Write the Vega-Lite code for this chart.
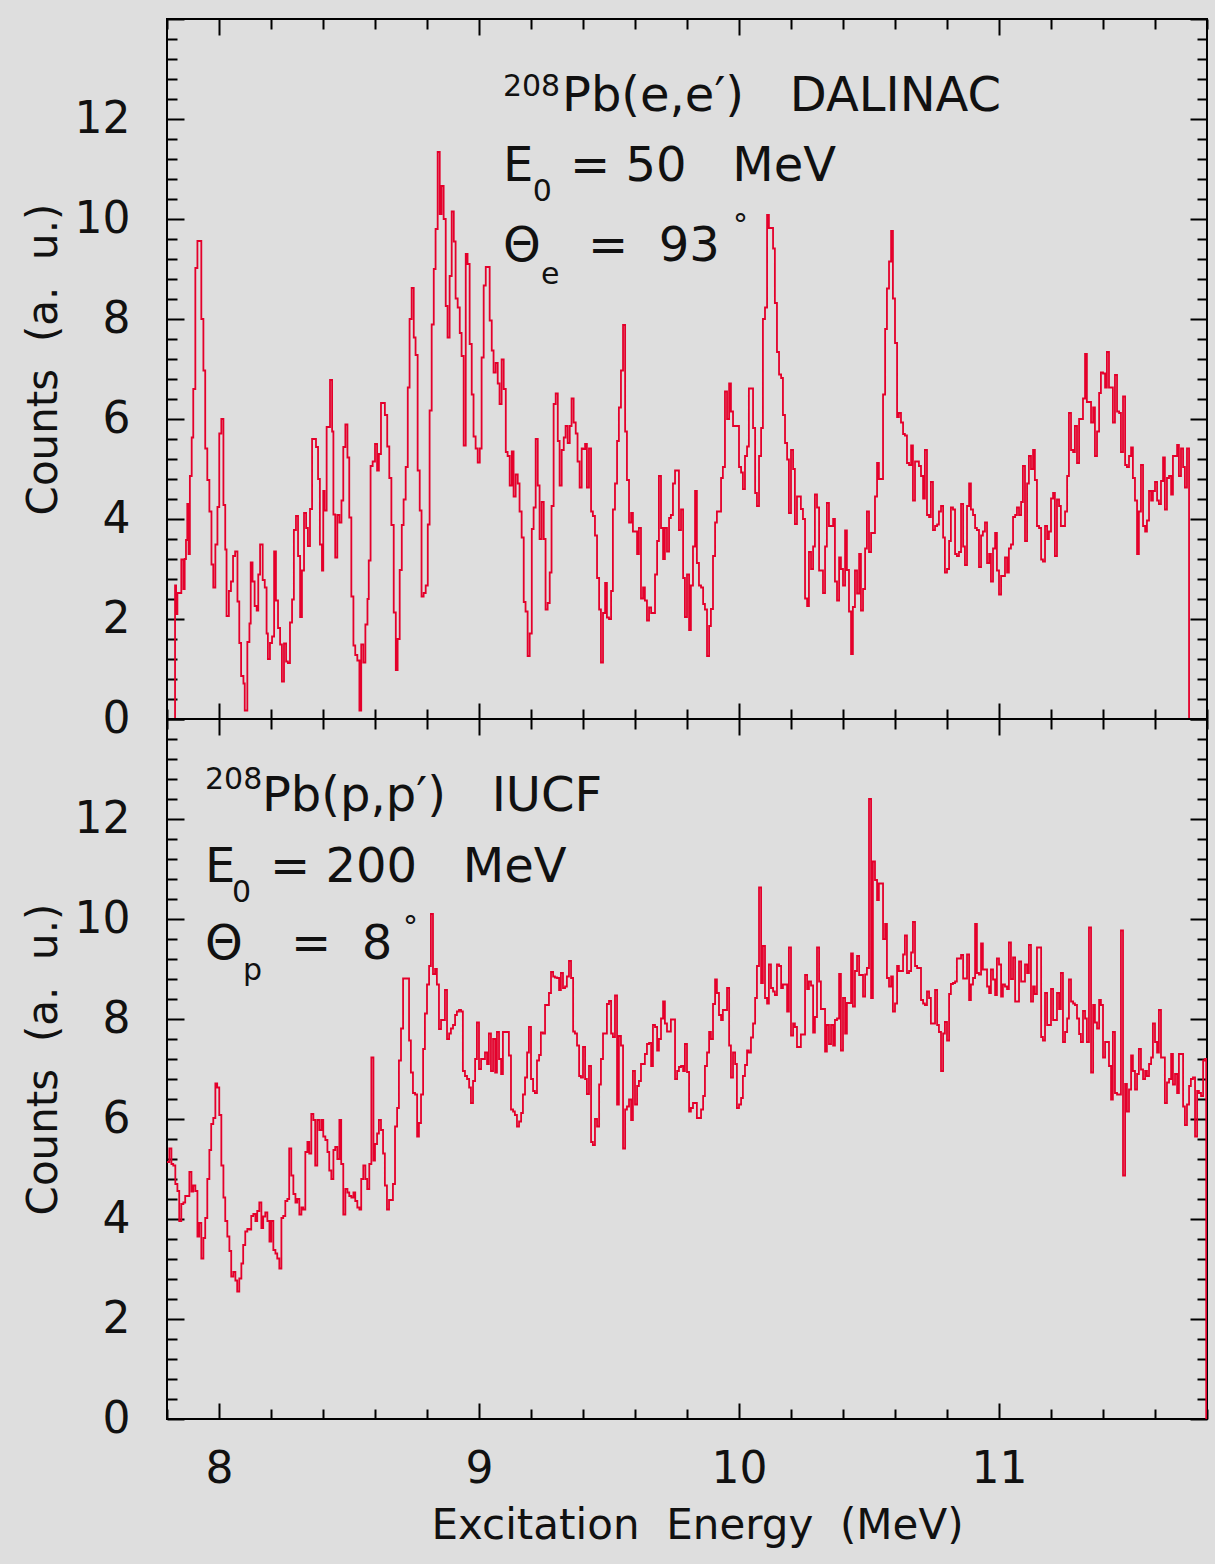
{
"$schema": "https://vega.github.io/schema/vega-lite/v6.json",
"background": "#dedede",
"padding": {"left": 21, "top": 17, "right": 7, "bottom": 19},
"spacing": 0,
"bounds": "flush",
"config": {
 "view": {"stroke": "#000000", "strokeWidth": 2},
 "axis": {"domain": false, "grid": false, "tickColor": "#000000", "tickWidth": 2, "labelColor": "#111111", "titleColor": "#111111", "labelFont": "DejaVu Sans", "titleFont": "DejaVu Sans", "labelFontSize": 44, "titleFontSize": 42, "titleFontWeight": "normal"},
 "text": {"font": "DejaVu Sans", "color": "#111111", "align": "left", "baseline": "alphabetic"}
},
"datasets": {
"ee": [
{"E":7.830,"c":0},{"E":7.831,"c":2.67},{"E":7.835,"c":2.1},{"E":7.840,"c":2.52},{"E":7.855,"c":3.19},{"E":7.863,"c":2.6},{"E":7.868,"c":3.2},{"E":7.873,"c":3.58},{"E":7.878,"c":4.3},{"E":7.883,"c":3.3},{"E":7.888,"c":4.86},{"E":7.895,"c":5.63},{"E":7.901,"c":6.6},{"E":7.909,"c":9.02},{"E":7.917,"c":9.56},{"E":7.932,"c":8.0},{"E":7.940,"c":6.97},{"E":7.947,"c":5.41},{"E":7.955,"c":4.78},{"E":7.963,"c":4.15},{"E":7.971,"c":3.09},{"E":7.978,"c":2.63},{"E":7.986,"c":3.49},{"E":7.994,"c":4.24},{"E":8.001,"c":5.71},{"E":8.009,"c":6.0},{"E":8.017,"c":4.28},{"E":8.024,"c":3.39},{"E":8.029,"c":2.06},{"E":8.038,"c":2.56},{"E":8.046,"c":2.75},{"E":8.054,"c":3.26},{"E":8.062,"c":3.35},{"E":8.071,"c":2.35},{"E":8.078,"c":1.52},{"E":8.085,"c":0.86},{"E":8.094,"c":0.71},{"E":8.099,"c":0.17},{"E":8.109,"c":1.54},{"E":8.117,"c":1.91},{"E":8.122,"c":3.13},{"E":8.129,"c":2.75},{"E":8.137,"c":2.26},{"E":8.145,"c":2.17},{"E":8.151,"c":2.89},{"E":8.158,"c":3.49},{"E":8.168,"c":2.78},{"E":8.176,"c":2.63},{"E":8.183,"c":1.71},{"E":8.188,"c":1.2},{"E":8.196,"c":1.52},{"E":8.204,"c":1.65},{"E":8.212,"c":3.35},{"E":8.219,"c":2.37},{"E":8.227,"c":1.82},{"E":8.235,"c":1.49},{"E":8.242,"c":0.75},{"E":8.250,"c":1.51},{"E":8.258,"c":1.15},{"E":8.265,"c":1.12},{"E":8.273,"c":1.93},{"E":8.281,"c":2.39},{"E":8.288,"c":3.78},{"E":8.296,"c":4.06},{"E":8.304,"c":3.26},{"E":8.312,"c":2.04},{"E":8.319,"c":2.97},{"E":8.327,"c":4.12},{"E":8.335,"c":3.82},{"E":8.342,"c":3.46},{"E":8.350,"c":4.2},{"E":8.358,"c":5.6},{"E":8.373,"c":5.44},{"E":8.381,"c":4.8},{"E":8.388,"c":3.49},{"E":8.396,"c":2.97},{"E":8.401,"c":4.56},{"E":8.406,"c":4.17},{"E":8.414,"c":5.84},{"E":8.427,"c":6.78},{"E":8.435,"c":5.75},{"E":8.440,"c":4.09},{"E":8.447,"c":3.23},{"E":8.455,"c":4.08},{"E":8.463,"c":3.93},{"E":8.471,"c":4.37},{"E":8.478,"c":5.44},{"E":8.486,"c":5.89},{"E":8.494,"c":5.23},{"E":8.501,"c":4.03},{"E":8.509,"c":2.45},{"E":8.517,"c":1.47},{"E":8.524,"c":1.28},{"E":8.532,"c":1.17},{"E":8.540,"c":0.17},{"E":8.547,"c":1.49},{"E":8.555,"c":1.13},{"E":8.563,"c":1.89},{"E":8.571,"c":2.4},{"E":8.576,"c":3.17},{"E":8.583,"c":5.06},{"E":8.591,"c":5.15},
{"E":8.600,"c":5.5},{"E":8.608,"c":4.97},{"E":8.615,"c":5.3},{"E":8.623,"c":6.32},{"E":8.638,"c":6.08},{"E":8.647,"c":5.45},{"E":8.655,"c":4.82},{"E":8.663,"c":3.88},{"E":8.672,"c":2.13},{"E":8.680,"c":0.98},{"E":8.687,"c":1.6},{"E":8.695,"c":2.98},{"E":8.703,"c":3.88},{"E":8.710,"c":4.39},{"E":8.718,"c":5.04},{"E":8.726,"c":6.63},{"E":8.733,"c":8.0},{"E":8.741,"c":8.62},{"E":8.749,"c":7.63},{"E":8.756,"c":7.28},{"E":8.764,"c":4.97},{"E":8.772,"c":4.17},{"E":8.779,"c":2.45},{"E":8.787,"c":2.52},{"E":8.795,"c":2.67},{"E":8.803,"c":3.89},{"E":8.810,"c":6.17},{"E":8.818,"c":7.89},{"E":8.826,"c":9.0},{"E":8.833,"c":9.8},{"E":8.841,"c":11.34},{"E":8.849,"c":10.1},{"E":8.856,"c":10.66},{"E":8.864,"c":10.0},{"E":8.872,"c":8.26},{"E":8.879,"c":7.63},{"E":8.887,"c":8.86},{"E":8.895,"c":10.15},{"E":8.903,"c":9.55},{"E":8.910,"c":8.41},{"E":8.918,"c":8.23},{"E":8.926,"c":7.72},{"E":8.933,"c":7.26},{"E":8.941,"c":5.47},{"E":8.949,"c":9.3},{"E":8.956,"c":9.1},{"E":8.964,"c":7.5},{"E":8.972,"c":6.49},{"E":8.979,"c":5.65},{"E":8.987,"c":5.41},{"E":8.995,"c":5.13},{"E":9.003,"c":5.41},{"E":9.010,"c":7.23},{"E":9.018,"c":8.67},{"E":9.026,"c":9.04},{"E":9.041,"c":7.97},{"E":9.049,"c":7.37},{"E":9.056,"c":6.93},{"E":9.064,"c":7.12},{"E":9.072,"c":6.71},{"E":9.079,"c":6.3},{"E":9.087,"c":7.19},{"E":9.095,"c":6.6},{"E":9.103,"c":5.34},{"E":9.110,"c":5.26},{"E":9.118,"c":4.67},{"E":9.126,"c":5.35},{"E":9.133,"c":4.45},{"E":9.141,"c":4.89},{"E":9.149,"c":4.71},{"E":9.156,"c":4.15},{"E":9.164,"c":3.63},{"E":9.172,"c":2.34},{"E":9.179,"c":2.15},{"E":9.187,"c":1.26},{"E":9.195,"c":1.71},{"E":9.203,"c":3.8},{"E":9.210,"c":4.23},{"E":9.218,"c":5.6},{"E":9.226,"c":4.67},{"E":9.233,"c":3.6},{"E":9.241,"c":4.34},{"E":9.249,"c":3.6},{"E":9.256,"c":2.19},{"E":9.264,"c":2.32},{"E":9.272,"c":2.93},{"E":9.279,"c":4.26},{"E":9.287,"c":6.3},{"E":9.295,"c":6.51},{"E":9.303,"c":5.56},{"E":9.310,"c":4.67},{"E":9.318,"c":5.38},{"E":9.326,"c":5.63},{"E":9.333,"c":5.86},{"E":9.341,"c":5.52},{"E":9.349,"c":5.86},{"E":9.356,"c":6.41},{"E":9.364,"c":5.93},{"E":9.372,"c":5.71},{"E":9.379,"c":5.15},{"E":9.387,"c":4.63},{"E":9.395,"c":5.41},
{"E":9.400,"c":5.4},{"E":9.408,"c":5.5},{"E":9.415,"c":4.63},{"E":9.423,"c":5.41},{"E":9.431,"c":4.15},{"E":9.438,"c":4.06},{"E":9.446,"c":3.67},{"E":9.454,"c":2.82},{"E":9.462,"c":2.19},{"E":9.469,"c":1.13},{"E":9.477,"c":2.12},{"E":9.485,"c":2.72},{"E":9.492,"c":2.03},{"E":9.500,"c":2.0},{"E":9.508,"c":2.56},{"E":9.515,"c":4.19},{"E":9.523,"c":4.71},{"E":9.531,"c":5.56},{"E":9.538,"c":6.23},{"E":9.546,"c":6.97},{"E":9.554,"c":7.88},{"E":9.562,"c":5.75},{"E":9.569,"c":4.78},{"E":9.577,"c":3.93},{"E":9.585,"c":4.12},{"E":9.592,"c":3.75},{"E":9.608,"c":3.3},{"E":9.615,"c":3.82},{"E":9.623,"c":2.41},{"E":9.631,"c":2.63},{"E":9.638,"c":2.37},{"E":9.646,"c":1.97},{"E":9.654,"c":2.23},{"E":9.662,"c":2.12},{"E":9.677,"c":2.89},{"E":9.685,"c":3.56},{"E":9.692,"c":4.86},{"E":9.700,"c":3.82},{"E":9.708,"c":3.2},{"E":9.715,"c":3.82},{"E":9.723,"c":3.35},{"E":9.731,"c":4.02},{"E":9.738,"c":4.08},{"E":9.746,"c":4.71},{"E":9.754,"c":4.97},{"E":9.769,"c":3.78},{"E":9.777,"c":4.19},{"E":9.785,"c":2.82},{"E":9.792,"c":2.04},{"E":9.800,"c":2.89},{"E":9.808,"c":1.78},{"E":9.815,"c":2.67},{"E":9.823,"c":3.45},{"E":9.831,"c":4.56},{"E":9.838,"c":3.12},{"E":9.846,"c":2.67},{"E":9.854,"c":2.63},{"E":9.862,"c":2.3},{"E":9.869,"c":2.19},{"E":9.877,"c":1.26},{"E":9.885,"c":1.86},{"E":9.892,"c":2.2},{"E":9.900,"c":3.26},{"E":9.908,"c":3.93},{"E":9.915,"c":4.15},{"E":9.931,"c":4.82},{"E":9.938,"c":5.04},{"E":9.946,"c":6.55},{"E":9.954,"c":6.0},{"E":9.962,"c":6.71},{"E":9.969,"c":6.15},{"E":9.977,"c":5.86},{"E":10.000,"c":5.04},{"E":10.008,"c":4.93},{"E":10.015,"c":4.6},{"E":10.023,"c":5.26},{"E":10.031,"c":5.45},{"E":10.038,"c":6.61},{"E":10.054,"c":5.82},{"E":10.062,"c":4.52},{"E":10.069,"c":4.26},{"E":10.077,"c":5.26},{"E":10.085,"c":5.82},{"E":10.092,"c":8.0},{"E":10.100,"c":8.23},{"E":10.108,"c":10.08},{"E":10.115,"c":9.82},{"E":10.131,"c":9.41},{"E":10.138,"c":8.32},{"E":10.146,"c":7.34},{"E":10.154,"c":6.89},{"E":10.162,"c":6.82},{"E":10.169,"c":6.08},{"E":10.177,"c":5.52},{"E":10.185,"c":5.19},{"E":10.192,"c":4.12},{"E":10.200,"c":5.38},{"E":10.208,"c":5.0},{"E":10.215,"c":3.9},
{"E":10.223,"c":4.45},{"E":10.238,"c":4.2},{"E":10.246,"c":4.0},{"E":10.254,"c":2.41},{"E":10.262,"c":2.26},{"E":10.269,"c":3.34},{"E":10.277,"c":3.0},{"E":10.285,"c":3.45},{"E":10.292,"c":4.49},{"E":10.300,"c":4.23},{"E":10.308,"c":2.97},{"E":10.323,"c":2.52},{"E":10.331,"c":3.45},{"E":10.338,"c":4.32},{"E":10.346,"c":3.86},{"E":10.362,"c":4.0},{"E":10.369,"c":2.75},{"E":10.377,"c":2.37},{"E":10.385,"c":3.23},{"E":10.392,"c":3.0},{"E":10.400,"c":2.67},{"E":10.408,"c":3.77},{"E":10.415,"c":2.98},{"E":10.423,"c":2.15},{"E":10.431,"c":1.3},{"E":10.438,"c":2.24},{"E":10.446,"c":2.97},{"E":10.454,"c":2.51},{"E":10.462,"c":3.3},{"E":10.469,"c":2.17},{"E":10.477,"c":2.6},{"E":10.485,"c":3.41},{"E":10.492,"c":4.15},{"E":10.500,"c":3.34},{"E":10.508,"c":3.72},{"E":10.523,"c":4.45},{"E":10.531,"c":5.12},{"E":10.538,"c":4.8},{"E":10.554,"c":6.49},{"E":10.562,"c":7.8},{"E":10.569,"c":8.61},{"E":10.577,"c":9.15},{"E":10.585,"c":9.76},{"E":10.592,"c":8.41},{"E":10.600,"c":7.52},{"E":10.608,"c":6.04},{"E":10.615,"c":6.12},{"E":10.623,"c":5.93},{"E":10.631,"c":5.7},{"E":10.638,"c":5.67},{"E":10.646,"c":5.12},{"E":10.654,"c":5.08},{"E":10.662,"c":5.47},{"E":10.669,"c":4.37},{"E":10.677,"c":5.15},{"E":10.692,"c":5.06},{"E":10.700,"c":4.86},{"E":10.708,"c":4.41},{"E":10.715,"c":5.38},{"E":10.723,"c":4.08},{"E":10.731,"c":4.04},{"E":10.738,"c":4.74},{"E":10.746,"c":3.78},{"E":10.754,"c":3.86},{"E":10.762,"c":3.89},{"E":10.769,"c":4.15},{"E":10.777,"c":4.26},{"E":10.785,"c":3.63},{"E":10.792,"c":2.93},{"E":10.800,"c":3.0},{"E":10.808,"c":3.56},{"E":10.815,"c":4.23},{"E":10.823,"c":4.19},{"E":10.831,"c":3.3},{"E":10.838,"c":3.26},{"E":10.846,"c":3.34},{"E":10.854,"c":4.3},{"E":10.862,"c":3.45},{"E":10.869,"c":3.08},{"E":10.877,"c":4.26},{"E":10.885,"c":4.71},{"E":10.892,"c":4.19},{"E":10.900,"c":4.08},{"E":10.908,"c":3.82},{"E":10.915,"c":3.78},{"E":10.923,"c":3.04},{"E":10.931,"c":3.67},{"E":10.938,"c":3.75},{"E":10.946,"c":3.93},{"E":10.954,"c":3.12},{"E":10.962,"c":3.3},{"E":10.969,"c":2.75},{"E":10.977,"c":3.41},{"E":10.985,"c":3.72},{"E":10.992,"c":2.97},{"E":11.000,"c":2.49},{"E":11.008,"c":2.86},{"E":11.023,"c":3.23},
{"E":11.031,"c":2.93},{"E":11.038,"c":3.41},{"E":11.046,"c":3.49},{"E":11.054,"c":4.04},{"E":11.062,"c":4.08},{"E":11.069,"c":4.23},{"E":11.077,"c":4.08},{"E":11.085,"c":4.34},{"E":11.092,"c":5.06},{"E":11.100,"c":3.56},{"E":11.108,"c":4.71},{"E":11.115,"c":5.26},{"E":11.123,"c":5.0},{"E":11.131,"c":5.38},{"E":11.138,"c":4.78},{"E":11.146,"c":3.86},{"E":11.154,"c":3.82},{"E":11.162,"c":3.19},{"E":11.169,"c":3.15},{"E":11.177,"c":3.86},{"E":11.185,"c":3.6},{"E":11.192,"c":3.75},{"E":11.200,"c":4.41},{"E":11.208,"c":4.52},{"E":11.215,"c":3.26},{"E":11.223,"c":4.39},{"E":11.231,"c":4.26},{"E":11.238,"c":3.86},{"E":11.254,"c":4.15},{"E":11.262,"c":4.86},{"E":11.269,"c":6.12},{"E":11.277,"c":5.38},{"E":11.285,"c":5.34},{"E":11.292,"c":5.86},{"E":11.300,"c":5.12},{"E":11.308,"c":6.0},{"E":11.323,"c":6.41},{"E":11.331,"c":7.3},{"E":11.338,"c":6.34},{"E":11.354,"c":5.93},{"E":11.362,"c":6.23},{"E":11.369,"c":5.26},{"E":11.377,"c":5.75},{"E":11.385,"c":6.52},{"E":11.392,"c":6.93},{"E":11.400,"c":6.91},{"E":11.408,"c":6.63},{"E":11.415,"c":7.34},{"E":11.423,"c":6.63},{"E":11.438,"c":5.93},{"E":11.446,"c":6.88},{"E":11.454,"c":6.15},{"E":11.462,"c":6.12},{"E":11.469,"c":5.34},{"E":11.477,"c":6.45},{"E":11.485,"c":5.08},{"E":11.492,"c":5.04},{"E":11.500,"c":5.26},{"E":11.508,"c":5.43},{"E":11.515,"c":4.82},{"E":11.523,"c":4.37},{"E":11.531,"c":3.3},{"E":11.538,"c":4.15},{"E":11.546,"c":5.08},{"E":11.554,"c":3.86},{"E":11.562,"c":3.75},{"E":11.569,"c":3.97},{"E":11.577,"c":4.56},{"E":11.585,"c":4.37},{"E":11.592,"c":4.56},{"E":11.600,"c":4.74},{"E":11.608,"c":4.37},{"E":11.615,"c":4.3},{"E":11.623,"c":4.76},{"E":11.631,"c":5.23},{"E":11.638,"c":4.19},{"E":11.646,"c":4.82},{"E":11.654,"c":4.86},{"E":11.662,"c":4.49},{"E":11.669,"c":5.26},{"E":11.685,"c":5.48},{"E":11.692,"c":4.86},{"E":11.700,"c":5.41},{"E":11.708,"c":5.04},{"E":11.715,"c":4.63},{"E":11.723,"c":5.41},{"E":11.731,"c":0}
],
"pp": [
{"E":7.800,"c":5.14},{"E":7.809,"c":5.41},{"E":7.817,"c":5.1},{"E":7.824,"c":5.07},{"E":7.832,"c":4.7},{"E":7.840,"c":4.56},{"E":7.847,"c":3.96},{"E":7.855,"c":4.3},{"E":7.863,"c":4.33},{"E":7.870,"c":4.46},{"E":7.886,"c":4.94},{"E":7.894,"c":4.55},{"E":7.901,"c":4.67},{"E":7.909,"c":4.56},{"E":7.917,"c":3.65},{"E":7.924,"c":3.92},{"E":7.932,"c":3.21},{"E":7.940,"c":3.62},{"E":7.947,"c":4.02},{"E":7.955,"c":4.8},{"E":7.963,"c":5.38},{"E":7.970,"c":5.9},{"E":7.978,"c":6.02},{"E":7.986,"c":6.71},{"E":7.993,"c":6.63},{"E":8.001,"c":6.08},{"E":8.009,"c":5.07},{"E":8.017,"c":4.43},{"E":8.024,"c":3.96},{"E":8.032,"c":3.65},{"E":8.040,"c":3.36},{"E":8.047,"c":2.85},{"E":8.055,"c":2.94},{"E":8.063,"c":2.77},{"E":8.070,"c":2.55},{"E":8.078,"c":2.81},{"E":8.086,"c":3.11},{"E":8.093,"c":3.48},{"E":8.101,"c":3.75},{"E":8.109,"c":3.8},{"E":8.117,"c":3.79},{"E":8.124,"c":4.06},{"E":8.132,"c":4.1},{"E":8.140,"c":3.96},{"E":8.147,"c":4.16},{"E":8.155,"c":4.33},{"E":8.163,"c":3.82},{"E":8.170,"c":4.05},{"E":8.178,"c":4.13},{"E":8.186,"c":3.96},{"E":8.194,"c":3.55},{"E":8.201,"c":3.96},{"E":8.209,"c":3.38},{"E":8.217,"c":3.31},{"E":8.224,"c":3.21},{"E":8.232,"c":3.01},{"E":8.240,"c":4.02},{"E":8.247,"c":4.06},{"E":8.255,"c":4.36},{"E":8.263,"c":4.4},{"E":8.270,"c":5.41},{"E":8.278,"c":4.87},{"E":8.286,"c":4.5},{"E":8.294,"c":4.33},{"E":8.301,"c":4.4},{"E":8.309,"c":4.09},{"E":8.317,"c":4.23},{"E":8.324,"c":4.19},{"E":8.332,"c":5.34},{"E":8.340,"c":5.54},{"E":8.347,"c":5.31},{"E":8.355,"c":6.1},{"E":8.363,"c":5.98},{"E":8.370,"c":5.07},{"E":8.378,"c":5.98},{"E":8.386,"c":5.78},{"E":8.394,"c":5.98},{"E":8.401,"c":5.65},{"E":8.409,"c":5.58},{"E":8.417,"c":5.34},{"E":8.424,"c":4.97},{"E":8.432,"c":4.8},{"E":8.440,"c":5.38},{"E":8.447,"c":5.44},{"E":8.455,"c":5.2},{"E":8.463,"c":5.98},{"E":8.470,"c":5.1},{"E":8.478,"c":4.09},{"E":8.486,"c":4.6},{"E":8.494,"c":4.53},{"E":8.501,"c":4.46},{"E":8.509,"c":4.43},{"E":8.517,"c":4.53},{"E":8.524,"c":4.36},{"E":8.532,"c":4.23},{"E":8.540,"c":4.19},{"E":8.547,"c":4.8},{"E":8.555,"c":5.07},{"E":8.563,"c":4.8},{"E":8.570,"c":4.6},{"E":8.578,"c":5.1},{"E":8.586,"c":7.23},{"E":8.594,"c":5.17},
{"E":8.600,"c":5.5},{"E":8.608,"c":5.71},{"E":8.615,"c":5.98},{"E":8.623,"c":5.78},{"E":8.631,"c":5.31},{"E":8.638,"c":4.67},{"E":8.646,"c":4.19},{"E":8.654,"c":4.38},{"E":8.669,"c":4.7},{"E":8.677,"c":5.85},{"E":8.685,"c":6.22},{"E":8.692,"c":7.17},{"E":8.700,"c":7.81},{"E":8.708,"c":8.81},{"E":8.731,"c":7.57},{"E":8.738,"c":6.93},{"E":8.746,"c":6.52},{"E":8.754,"c":6.49},{"E":8.762,"c":5.65},{"E":8.769,"c":5.92},{"E":8.777,"c":6.49},{"E":8.785,"c":7.4},{"E":8.792,"c":8.11},{"E":8.800,"c":8.69},{"E":8.808,"c":9.06},{"E":8.815,"c":10.1},{"E":8.823,"c":8.9},{"E":8.831,"c":9.0},{"E":8.838,"c":8.69},{"E":8.846,"c":7.8},{"E":8.854,"c":7.98},{"E":8.869,"c":8.58},{"E":8.877,"c":7.6},{"E":8.885,"c":7.71},{"E":8.892,"c":7.81},{"E":8.900,"c":7.88},{"E":8.908,"c":8.08},{"E":8.915,"c":8.15},{"E":8.923,"c":8.18},{"E":8.931,"c":8.15},{"E":8.938,"c":6.96},{"E":8.946,"c":6.86},{"E":8.954,"c":6.8},{"E":8.962,"c":6.63},{"E":8.969,"c":6.32},{"E":8.977,"c":6.76},{"E":8.985,"c":7.2},{"E":8.992,"c":7.93},{"E":9.000,"c":7.0},{"E":9.008,"c":7.2},{"E":9.023,"c":7.33},{"E":9.031,"c":7.1},{"E":9.038,"c":7.71},{"E":9.046,"c":6.96},{"E":9.054,"c":7.6},{"E":9.062,"c":6.93},{"E":9.069,"c":7.74},{"E":9.077,"c":7.2},{"E":9.085,"c":6.9},{"E":9.092,"c":7.74},{"E":9.115,"c":7.27},{"E":9.123,"c":6.19},{"E":9.131,"c":6.15},{"E":9.138,"c":6.08},{"E":9.146,"c":5.85},{"E":9.154,"c":5.95},{"E":9.162,"c":6.12},{"E":9.169,"c":6.49},{"E":9.177,"c":6.83},{"E":9.185,"c":7.33},{"E":9.192,"c":7.84},{"E":9.200,"c":6.8},{"E":9.208,"c":6.56},{"E":9.215,"c":6.52},{"E":9.223,"c":7.17},{"E":9.231,"c":7.28},{"E":9.238,"c":7.73},{"E":9.246,"c":7.71},{"E":9.254,"c":8.28},{"E":9.269,"c":8.52},{"E":9.277,"c":8.94},{"E":9.285,"c":8.85},{"E":9.292,"c":8.83},{"E":9.300,"c":8.82},{"E":9.308,"c":8.58},{"E":9.315,"c":8.92},{"E":9.323,"c":8.62},{"E":9.331,"c":8.65},{"E":9.338,"c":8.85},{"E":9.346,"c":9.16},{"E":9.354,"c":8.82},{"E":9.362,"c":7.75},{"E":9.369,"c":7.71},{"E":9.377,"c":7.47},{"E":9.385,"c":6.86},{"E":9.392,"c":6.83},{"E":9.400,"c":7.44},
{"E":9.408,"c":6.8},{"E":9.415,"c":6.5},{"E":9.423,"c":7.06},{"E":9.431,"c":5.54},{"E":9.438,"c":5.48},{"E":9.446,"c":6.0},{"E":9.454,"c":5.85},{"E":9.462,"c":6.69},{"E":9.469,"c":7.2},{"E":9.477,"c":7.71},{"E":9.492,"c":8.3},{"E":9.500,"c":8.36},{"E":9.508,"c":7.71},{"E":9.515,"c":7.64},{"E":9.523,"c":8.47},{"E":9.531,"c":6.29},{"E":9.538,"c":7.66},{"E":9.546,"c":7.47},{"E":9.554,"c":5.41},{"E":9.562,"c":6.19},{"E":9.569,"c":6.25},{"E":9.577,"c":6.39},{"E":9.585,"c":5.98},{"E":9.592,"c":6.96},{"E":9.600,"c":6.29},{"E":9.608,"c":6.66},{"E":9.615,"c":6.76},{"E":9.623,"c":7.1},{"E":9.638,"c":7.3},{"E":9.646,"c":7.5},{"E":9.654,"c":7.52},{"E":9.662,"c":7.06},{"E":9.669,"c":7.88},{"E":9.677,"c":7.84},{"E":9.685,"c":7.37},{"E":9.692,"c":7.6},{"E":9.700,"c":8.01},{"E":9.708,"c":8.35},{"E":9.715,"c":7.91},{"E":9.723,"c":7.75},{"E":9.738,"c":7.99},{"E":9.754,"c":6.8},{"E":9.762,"c":6.96},{"E":9.769,"c":7.04},{"E":9.777,"c":7.06},{"E":9.785,"c":6.96},{"E":9.792,"c":7.5},{"E":9.800,"c":6.94},{"E":9.808,"c":6.15},{"E":9.815,"c":6.22},{"E":9.823,"c":6.32},{"E":9.838,"c":6.02},{"E":9.854,"c":6.19},{"E":9.862,"c":6.46},{"E":9.869,"c":7.06},{"E":9.877,"c":7.33},{"E":9.885,"c":7.74},{"E":9.892,"c":7.6},{"E":9.900,"c":8.3},{"E":9.908,"c":8.79},{"E":9.915,"c":8.52},{"E":9.923,"c":8.08},{"E":9.931,"c":7.98},{"E":9.938,"c":8.18},{"E":9.954,"c":8.62},{"E":9.962,"c":7.47},{"E":9.969,"c":6.83},{"E":9.977,"c":7.33},{"E":9.985,"c":7.1},{"E":9.992,"c":6.22},{"E":10.000,"c":6.29},{"E":10.008,"c":6.42},{"E":10.015,"c":6.86},{"E":10.023,"c":7.08},{"E":10.031,"c":7.37},{"E":10.038,"c":7.33},{"E":10.046,"c":7.63},{"E":10.054,"c":7.91},{"E":10.062,"c":8.42},{"E":10.069,"c":9.06},{"E":10.077,"c":10.63},{"E":10.085,"c":8.72},{"E":10.092,"c":9.46},{"E":10.100,"c":8.42},{"E":10.108,"c":8.31},{"E":10.115,"c":9.09},{"E":10.123,"c":8.62},{"E":10.131,"c":8.55},{"E":10.138,"c":8.48},{"E":10.146,"c":9.09},{"E":10.154,"c":9.06},{"E":10.162,"c":8.62},{"E":10.169,"c":8.69},{"E":10.185,"c":8.15},{"E":10.192,"c":9.43},{"E":10.200,"c":7.67},{"E":10.208,"c":7.91},{"E":10.215,"c":7.84},
{"E":10.223,"c":7.44},{"E":10.238,"c":7.69},{"E":10.254,"c":8.88},{"E":10.262,"c":8.6},{"E":10.269,"c":8.75},{"E":10.277,"c":8.67},{"E":10.285,"c":7.73},{"E":10.292,"c":8.04},{"E":10.300,"c":9.43},{"E":10.308,"c":8.75},{"E":10.315,"c":8.2},{"E":10.331,"c":7.35},{"E":10.338,"c":7.88},{"E":10.346,"c":7.5},{"E":10.354,"c":7.88},{"E":10.362,"c":7.47},{"E":10.369,"c":7.98},{"E":10.377,"c":8.01},{"E":10.385,"c":8.9},{"E":10.392,"c":7.37},{"E":10.400,"c":8.42},{"E":10.408,"c":7.71},{"E":10.415,"c":8.32},{"E":10.431,"c":9.31},{"E":10.438,"c":8.25},{"E":10.446,"c":8.96},{"E":10.454,"c":9.26},{"E":10.462,"c":8.88},{"E":10.477,"c":8.45},{"E":10.485,"c":8.89},{"E":10.492,"c":9.02},{"E":10.500,"c":12.4},{"E":10.508,"c":8.42},{"E":10.515,"c":11.15},{"E":10.523,"c":10.78},{"E":10.531,"c":10.38},{"E":10.538,"c":10.71},{"E":10.554,"c":9.6},{"E":10.562,"c":9.9},{"E":10.569,"c":8.82},{"E":10.577,"c":8.65},{"E":10.585,"c":8.85},{"E":10.592,"c":8.15},{"E":10.600,"c":8.31},{"E":10.608,"c":9.06},{"E":10.615,"c":8.96},{"E":10.631,"c":9.29},{"E":10.638,"c":9.67},{"E":10.646,"c":8.92},{"E":10.654,"c":8.96},{"E":10.662,"c":9.33},{"E":10.669,"c":9.94},{"E":10.677,"c":9.06},{"E":10.685,"c":9.02},{"E":10.700,"c":8.38},{"E":10.708,"c":8.31},{"E":10.715,"c":8.28},{"E":10.723,"c":8.55},{"E":10.731,"c":8.42},{"E":10.738,"c":7.91},{"E":10.754,"c":8.58},{"E":10.762,"c":7.88},{"E":10.769,"c":7.74},{"E":10.777,"c":6.96},{"E":10.785,"c":7.71},{"E":10.792,"c":7.94},{"E":10.800,"c":7.57},{"E":10.808,"c":8.5},{"E":10.815,"c":8.7},{"E":10.823,"c":8.72},{"E":10.831,"c":8.75},{"E":10.838,"c":9.21},{"E":10.854,"c":9.28},{"E":10.862,"c":8.81},{"E":10.877,"c":9.29},{"E":10.885,"c":8.38},{"E":10.892,"c":8.69},{"E":10.900,"c":8.82},{"E":10.908,"c":9.9},{"E":10.915,"c":8.92},{"E":10.923,"c":8.89},{"E":10.931,"c":9.51},{"E":10.938,"c":8.99},{"E":10.954,"c":8.65},{"E":10.962,"c":8.52},{"E":10.969,"c":8.99},{"E":10.977,"c":8.79},{"E":10.985,"c":8.48},{"E":10.992,"c":9.21},{"E":11.000,"c":9.09},{"E":11.008,"c":8.45},{"E":11.015,"c":8.69},{"E":11.023,"c":8.65},
{"E":11.031,"c":8.6},{"E":11.038,"c":9.53},{"E":11.046,"c":8.8},{"E":11.054,"c":9.23},{"E":11.062,"c":8.35},{"E":11.077,"c":9.15},{"E":11.085,"c":8.75},{"E":11.100,"c":9.09},{"E":11.108,"c":8.92},{"E":11.115,"c":9.48},{"E":11.123,"c":8.35},{"E":11.131,"c":8.65},{"E":11.138,"c":8.5},{"E":11.146,"c":9.43},{"E":11.162,"c":7.64},{"E":11.169,"c":7.57},{"E":11.177,"c":8.52},{"E":11.185,"c":7.88},{"E":11.200,"c":8.6},{"E":11.208,"c":7.98},{"E":11.223,"c":8.52},{"E":11.231,"c":8.2},{"E":11.238,"c":8.92},{"E":11.246,"c":7.54},{"E":11.254,"c":7.74},{"E":11.262,"c":8.01},{"E":11.269,"c":8.79},{"E":11.277,"c":8.35},{"E":11.285,"c":8.31},{"E":11.292,"c":8.28},{"E":11.300,"c":8.01},{"E":11.308,"c":7.7},{"E":11.315,"c":7.54},{"E":11.323,"c":8.16},{"E":11.331,"c":8.01},{"E":11.338,"c":7.54},{"E":11.346,"c":9.83},{"E":11.354,"c":6.93},{"E":11.362,"c":8.28},{"E":11.369,"c":7.93},{"E":11.377,"c":7.81},{"E":11.385,"c":8.38},{"E":11.392,"c":8.28},{"E":11.400,"c":7.23},{"E":11.408,"c":7.54},{"E":11.423,"c":7.06},{"E":11.431,"c":6.39},{"E":11.438,"c":7.74},{"E":11.446,"c":6.52},{"E":11.454,"c":6.49},{"E":11.469,"c":9.77},{"E":11.477,"c":4.87},{"E":11.485,"c":6.7},{"E":11.492,"c":6.15},{"E":11.500,"c":6.59},{"E":11.508,"c":7.27},{"E":11.515,"c":6.96},{"E":11.523,"c":6.59},{"E":11.531,"c":6.9},{"E":11.538,"c":7.4},{"E":11.546,"c":6.99},{"E":11.554,"c":6.8},{"E":11.562,"c":6.96},{"E":11.569,"c":6.86},{"E":11.577,"c":7.1},{"E":11.585,"c":7.23},{"E":11.592,"c":7.91},{"E":11.600,"c":7.54},{"E":11.608,"c":7.33},{"E":11.615,"c":8.18},{"E":11.623,"c":7.23},{"E":11.638,"c":6.32},{"E":11.646,"c":6.73},{"E":11.654,"c":6.8},{"E":11.662,"c":7.3},{"E":11.669,"c":6.69},{"E":11.677,"c":6.9},{"E":11.685,"c":6.52},{"E":11.692,"c":7.3},{"E":11.708,"c":6.25},{"E":11.715,"c":5.88},{"E":11.723,"c":6.29},{"E":11.731,"c":6.66},{"E":11.738,"c":6.8},{"E":11.746,"c":6.83},{"E":11.754,"c":5.65},{"E":11.762,"c":6.56},{"E":11.769,"c":6.52},{"E":11.777,"c":6.46},{"E":11.785,"c":7.17},{"E":11.792,"c":7.2},{"E":11.797,"c":0}
]
},
"vconcat": [
{
 "width": 1040, "height": 700,
 "data": {"name": "ee"},
 "layer": [
  {"mark": {"type": "line", "interpolate": "step-after", "stroke": "#e4002b", "strokeWidth": 1.8, "clip": true},
   "encoding": {
    "x": {"field": "E", "type": "quantitative", "scale": {"domain": [7.8, 11.8], "nice": false, "zero": false},
          "axis": {"orient": "top", "labels": false, "title": null, "values": [7.8,8,8.2,8.4,8.6,8.8,9,9.2,9.4,9.6,9.8,10,10.2,10.4,10.6,10.8,11,11.2,11.4,11.6,11.8], "tickSize": {"condition": {"test": "abs(datum.value - round(datum.value)) < 0.01", "value": -16}, "value": -10}}},
    "y": {"field": "c", "type": "quantitative", "scale": {"domain": [0, 14], "nice": false, "zero": false},
          "axis": {"orient": "left", "ticks": false, "values": [0,2,4,6,8,10,12], "labelPadding": 37, "title": "Counts\u00a0\u00a0(a.\u00a0\u00a0u.)", "titleX": -102, "titleY": 340}}
   }},
  {"mark": {"type": "point", "opacity": 0, "size": 1},
   "encoding": {
    "x": {"field": "E", "type": "quantitative", "axis": {"orient": "bottom", "labels": false, "title": null, "values": [7.8,8,8.2,8.4,8.6,8.8,9,9.2,9.4,9.6,9.8,10,10.2,10.4,10.6,10.8,11,11.2,11.4,11.6,11.8], "tickSize": {"condition": {"test": "abs(datum.value - round(datum.value)) < 0.01", "value": -16}, "value": -10}}},
    "y": {"field": "c", "type": "quantitative", "axis": {"orient": "left", "labels": false, "title": null, "values": [0,0.4,0.8,1.2,1.6,2,2.4,2.8,3.2,3.6,4,4.4,4.8,5.2,5.6,6,6.4,6.8,7.2,7.6,8,8.4,8.8,9.2,9.6,10,10.4,10.8,11.2,11.6,12,12.4,12.8,13.2,13.6,14], "tickSize": {"condition": {"test": "abs(datum.value/2 - round(datum.value/2)) < 0.01", "value": -17}, "value": -10}}}
   }},
  {"mark": {"type": "point", "opacity": 0, "size": 1},
   "encoding": {
    "x": {"field": "E", "type": "quantitative", "axis": null},
    "y": {"field": "c", "type": "quantitative", "axis": {"orient": "right", "labels": false, "title": null, "values": [0,0.4,0.8,1.2,1.6,2,2.4,2.8,3.2,3.6,4,4.4,4.8,5.2,5.6,6,6.4,6.8,7.2,7.6,8,8.4,8.8,9.2,9.6,10,10.4,10.8,11.2,11.6,12,12.4,12.8,13.2,13.6,14], "tickSize": {"condition": {"test": "abs(datum.value/2 - round(datum.value/2)) < 0.01", "value": -17}, "value": -10}}}
   }},
  {"data": {"values": [{}]}, "mark": {"type": "text", "text": "208", "fontSize": 30}, "encoding": {"x": {"datum": 9.092, "axis": null}, "y": {"datum": 12.46, "axis": null}}},
  {"data": {"values": [{}]}, "mark": {"type": "text", "text": "Pb(e,e′)\u00a0\u00a0\u00a0DALINAC", "fontSize": 48}, "encoding": {"x": {"datum": 9.319, "axis": null}, "y": {"datum": 12.16, "axis": null}}},
  {"data": {"values": [{}]}, "mark": {"type": "text", "text": "E", "fontSize": 48}, "encoding": {"x": {"datum": 9.092, "axis": null}, "y": {"datum": 10.76, "axis": null}}},
  {"data": {"values": [{}]}, "mark": {"type": "text", "text": "0", "fontSize": 30}, "encoding": {"x": {"datum": 9.207, "axis": null}, "y": {"datum": 10.36, "axis": null}}},
  {"data": {"values": [{}]}, "mark": {"type": "text", "text": "=\u00a050\u00a0\u00a0\u00a0MeV", "fontSize": 48}, "encoding": {"x": {"datum": 9.35, "axis": null}, "y": {"datum": 10.76, "axis": null}}},
  {"data": {"values": [{}]}, "mark": {"type": "text", "text": "Θ", "fontSize": 48}, "encoding": {"x": {"datum": 9.092, "axis": null}, "y": {"datum": 9.16, "axis": null}}},
  {"data": {"values": [{}]}, "mark": {"type": "text", "text": "e", "fontSize": 30}, "encoding": {"x": {"datum": 9.238, "axis": null}, "y": {"datum": 8.7, "axis": null}}},
  {"data": {"values": [{}]}, "mark": {"type": "text", "text": "=\u00a0\u00a093", "fontSize": 48}, "encoding": {"x": {"datum": 9.419, "axis": null}, "y": {"datum": 9.16, "axis": null}}},
  {"data": {"values": [{}]}, "mark": {"type": "text", "text": "°", "fontSize": 30}, "encoding": {"x": {"datum": 9.977, "axis": null}, "y": {"datum": 9.68, "axis": null}}}
 ],
 "resolve": {"axis": {"x": "independent", "y": "independent"}}
},
{
 "width": 1040, "height": 700,
 "data": {"name": "pp"},
 "layer": [
  {"mark": {"type": "line", "interpolate": "step-after", "stroke": "#e4002b", "strokeWidth": 1.8, "clip": true},
   "encoding": {
    "x": {"field": "E", "type": "quantitative", "scale": {"domain": [7.8, 11.8], "nice": false, "zero": false},
          "axis": {"orient": "bottom", "ticks": false, "values": [8,9,10,11], "labelPadding": 28, "title": "Excitation\u00a0\u00a0Energy\u00a0\u00a0(MeV)", "titleX": 530, "titleY": 86}},
    "y": {"field": "c", "type": "quantitative", "scale": {"domain": [0, 14], "nice": false, "zero": false},
          "axis": {"orient": "left", "ticks": false, "values": [0,2,4,6,8,10,12], "labelPadding": 37, "title": "Counts\u00a0\u00a0(a.\u00a0\u00a0u.)", "titleX": -102, "titleY": 340}}
   }},
  {"mark": {"type": "point", "opacity": 0, "size": 1},
   "encoding": {
    "x": {"field": "E", "type": "quantitative", "axis": {"orient": "bottom", "labels": false, "title": null, "values": [7.8,8,8.2,8.4,8.6,8.8,9,9.2,9.4,9.6,9.8,10,10.2,10.4,10.6,10.8,11,11.2,11.4,11.6,11.8], "tickSize": {"condition": {"test": "abs(datum.value - round(datum.value)) < 0.01", "value": -16}, "value": -10}}},
    "y": {"field": "c", "type": "quantitative", "axis": {"orient": "left", "labels": false, "title": null, "values": [0,0.4,0.8,1.2,1.6,2,2.4,2.8,3.2,3.6,4,4.4,4.8,5.2,5.6,6,6.4,6.8,7.2,7.6,8,8.4,8.8,9.2,9.6,10,10.4,10.8,11.2,11.6,12,12.4,12.8,13.2,13.6,14], "tickSize": {"condition": {"test": "abs(datum.value/2 - round(datum.value/2)) < 0.01", "value": -17}, "value": -10}}}
   }},
  {"mark": {"type": "point", "opacity": 0, "size": 1},
   "encoding": {
    "x": {"field": "E", "type": "quantitative", "axis": {"orient": "top", "labels": false, "title": null, "values": [7.8,8,8.2,8.4,8.6,8.8,9,9.2,9.4,9.6,9.8,10,10.2,10.4,10.6,10.8,11,11.2,11.4,11.6,11.8], "tickSize": {"condition": {"test": "abs(datum.value - round(datum.value)) < 0.01", "value": -16}, "value": -10}}},
    "y": {"field": "c", "type": "quantitative", "axis": {"orient": "right", "labels": false, "title": null, "values": [0,0.4,0.8,1.2,1.6,2,2.4,2.8,3.2,3.6,4,4.4,4.8,5.2,5.6,6,6.4,6.8,7.2,7.6,8,8.4,8.8,9.2,9.6,10,10.4,10.8,11.2,11.6,12,12.4,12.8,13.2,13.6,14], "tickSize": {"condition": {"test": "abs(datum.value/2 - round(datum.value/2)) < 0.01", "value": -17}, "value": -10}}}
   }},
  {"data": {"values": [{}]}, "mark": {"type": "text", "text": "208", "fontSize": 30}, "encoding": {"x": {"datum": 7.946, "axis": null}, "y": {"datum": 12.6, "axis": null}}},
  {"data": {"values": [{}]}, "mark": {"type": "text", "text": "Pb(p,p′)\u00a0\u00a0\u00a0IUCF", "fontSize": 48}, "encoding": {"x": {"datum": 8.165, "axis": null}, "y": {"datum": 12.16, "axis": null}}},
  {"data": {"values": [{}]}, "mark": {"type": "text", "text": "E", "fontSize": 48}, "encoding": {"x": {"datum": 7.946, "axis": null}, "y": {"datum": 10.74, "axis": null}}},
  {"data": {"values": [{}]}, "mark": {"type": "text", "text": "0", "fontSize": 30}, "encoding": {"x": {"datum": 8.05, "axis": null}, "y": {"datum": 10.34, "axis": null}}},
  {"data": {"values": [{}]}, "mark": {"type": "text", "text": "=\u00a0200\u00a0\u00a0\u00a0MeV", "fontSize": 48}, "encoding": {"x": {"datum": 8.196, "axis": null}, "y": {"datum": 10.74, "axis": null}}},
  {"data": {"values": [{}]}, "mark": {"type": "text", "text": "Θ", "fontSize": 48}, "encoding": {"x": {"datum": 7.946, "axis": null}, "y": {"datum": 9.2, "axis": null}}},
  {"data": {"values": [{}]}, "mark": {"type": "text", "text": "p", "fontSize": 30}, "encoding": {"x": {"datum": 8.092, "axis": null}, "y": {"datum": 8.78, "axis": null}}},
  {"data": {"values": [{}]}, "mark": {"type": "text", "text": "=\u00a0\u00a08", "fontSize": 48}, "encoding": {"x": {"datum": 8.277, "axis": null}, "y": {"datum": 9.2, "axis": null}}},
  {"data": {"values": [{}]}, "mark": {"type": "text", "text": "°", "fontSize": 30}, "encoding": {"x": {"datum": 8.708, "axis": null}, "y": {"datum": 9.64, "axis": null}}}
 ],
 "resolve": {"axis": {"x": "independent", "y": "independent"}}
}
]
}
